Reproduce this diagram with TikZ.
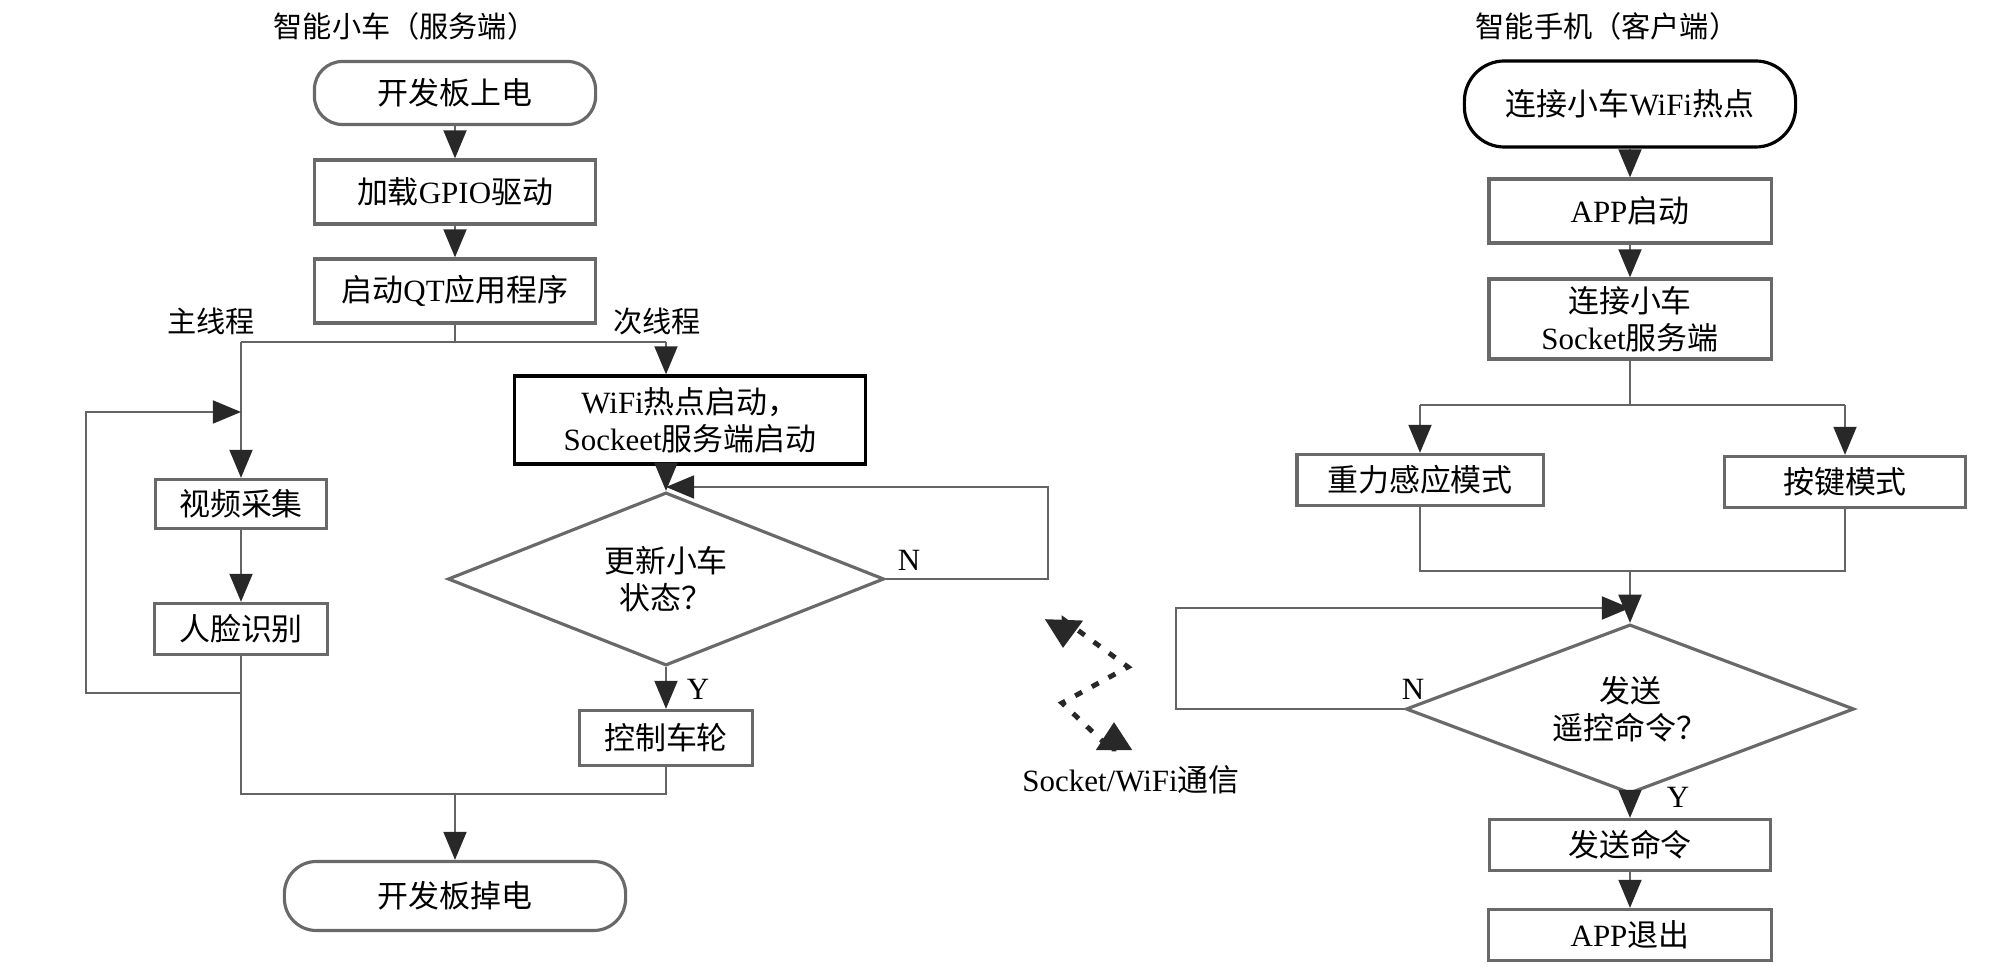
\documentclass[tikz,border=0pt]{standalone}
\usepackage{fontspec}
\setmainfont{Noto Sans CJK SC}
\newfontfamily\latfont{Liberation Serif}
\newcommand{\en}[1]{{\latfont #1}}
\newcommand{\boxfont}{\fontsize{8.8pt}{10.5pt}\selectfont}
\newcommand{\ttlfont}{\fontsize{8.3pt}{10pt}\selectfont}
\usepackage{tikz}
\usetikzlibrary{shapes.geometric,arrows.meta,positioning,calc}
\usepackage{xcolor}
\definecolor{linegray}{RGB}{100,100,100}
\definecolor{boxgray}{RGB}{105,105,105}
\definecolor{tipdark}{RGB}{40,40,40}

\begin{document}
\begin{tikzpicture}[x=0.01cm,y=-0.01cm,
          term/.style={draw=boxgray,line width=0.9pt,rounded corners=0.28cm,
                       minimum width=2.81cm,minimum height=0.63cm,
                       inner sep=0pt,font=\boxfont},
          proc/.style={draw=boxgray,line width=0.9pt,minimum height=0.64cm,
                       inner sep=0pt,align=center,font=\boxfont},
          dec/.style={diamond,draw=boxgray,line width=0.9pt,inner sep=0pt,
                      aspect=2.6,align=center,font=\boxfont},
          conn/.style={draw=linegray,line width=0.7pt},
          flow/.style={conn,-{Triangle[length=8pt,width=6.5pt,color=tipdark]}},
          wave/.style={draw=tipdark,line width=1.4pt,dash pattern=on 2.2pt off 3.2pt,
                       {Triangle[length=8pt,width=10.5pt]}-{Triangle[length=8pt,width=10pt]}},
          lab/.style={font=\ttlfont,inner sep=0pt}
        ]
        \useasboundingbox (0,0) rectangle (2008,967);
        % car side (server)
        \node[lab] (ttlcar) at (405,26) {智能小车（服务端）};
        \node[term] (pwron) at (455,93) {开发板上电};
        \node[proc,minimum width=2.81cm] (gpio)  at (455,192) {加载\en{GPIO}驱动};
        \node[proc,minimum width=2.81cm] (qtapp) at (455,291) {启动\en{QT}应用程序};
        \coordinate (split) at (455,342);
        \coordinate (mainl) at (241,342);
        \coordinate (subl)  at (666,342);
        \node[lab] (tmain) at (211,321) {主线程};
        \node[lab] (tsub)  at (657,321) {次线程};
        \node[proc,minimum width=1.71cm,minimum height=0.49cm] (video) at (241,504) {视频采集};
        \node[proc,minimum width=1.73cm,minimum height=0.51cm] (face)  at (241,629) {人脸识别};
        \node[proc,draw=black,minimum width=3.51cm,minimum height=0.88cm] (wifi) at (690,420)
              {\en{WiFi}热点启动，\\\en{Sockeet}服务端启动};
        \node[dec,minimum width=4.36cm,minimum height=1.73cm] (upd) at (666,579) {更新小车\\状态？};
        \node[proc,minimum width=1.73cm,minimum height=0.55cm] (wheel) at (666,738) {控制车轮};
        \node[term,minimum width=3.41cm,minimum height=0.69cm,rounded corners=0.32cm] (pwroff)
              at (455,896) {开发板掉电};
        \coordinate (loopb) at (241,693);
        \coordinate (loopl) at (86,693);
        \coordinate (loopt) at (86,412);
        \coordinate (mrgl)  at (241,794);
        \coordinate (mrgr)  at (666,794);
        \coordinate (mrg)   at (455,794);
        \coordinate (nloop) at (1048,487);
        \node[lab,font=\boxfont] (nl) at (909,560) {\en{N}};
        \node[lab,font=\boxfont] (yl) at (698,689) {\en{Y}};
        \draw[flow] (pwron) -- (gpio);
        \draw[flow] (gpio) -- (qtapp);
        \draw[conn] (qtapp) -- (split);
        \draw[conn] (mainl) -- (subl);
        \draw[flow] (mainl) -- (video);
        \draw[flow] (subl) -- (wifi.north -| subl);
        \draw[flow] (video) -- (face);
        \draw[flow] (loopb) -- (loopl) -- (loopt) -- (loopt -| mainl);
        \draw[conn] (face) -- (mrgl) -- (mrgr) -- (wheel);
        \draw[flow] (mrg) -- (pwroff);
        \draw[flow] (wifi.south -| upd) -- (upd);
        \draw[flow] (upd.east) -| (nloop) -- (nloop -| upd);
        \draw[flow] (upd) -- (wheel);
        % wireless link
        \coordinate (wa) at (1063,648);
        \coordinate (wa2) at (1064,620);
        \coordinate (wb) at (1128,667);
        \coordinate (wc) at (1062,703);
        \coordinate (wd2) at (1114,752);
        \coordinate (wd) at (1114,722);
        \draw[wave] (wa) -- (wa2) -- (wb) -- (wc) -- (wd2) -- (wd);
        \node[lab,font=\boxfont] (sock) at (1131,780) {\en{Socket/WiFi}通信};
        % phone side (client)
        \node[lab] (ttlphone) at (1607,26) {智能手机（客户端）};
        \node[term,draw=black,minimum width=3.31cm,minimum height=0.86cm,rounded corners=0.4cm]
              (conwifi) at (1630,104) {连接小车\en{WiFi}热点};
        \node[proc,minimum width=2.82cm] (appon) at (1630,211) {\en{APP}启动};
        \node[proc,minimum width=2.82cm,minimum height=0.8cm] (consock) at (1630,319)
              {连接小车\\\en{Socket}服务端};
        \coordinate (split2) at (1630,405);
        \coordinate (gl) at (1420,405);
        \coordinate (kr) at (1845,405);
        \node[proc,minimum width=2.46cm,minimum height=0.51cm] (grav) at (1420,480) {重力感应模式};
        \node[proc,minimum width=2.41cm,minimum height=0.51cm] (keys) at (1845,482) {按键模式};
        \coordinate (mrg2l) at (1420,571);
        \coordinate (mrg2r) at (1845,571);
        \coordinate (mrg2)  at (1630,571);
        \node[dec,minimum width=4.48cm,minimum height=1.69cm] (send) at (1630,709) {发送\\遥控命令？};
        \coordinate (nloop2) at (1176,608);
        \node[proc,minimum width=2.81cm,minimum height=0.51cm] (sendcmd) at (1630,845) {发送命令};
        \node[proc,minimum width=2.83cm,minimum height=0.51cm] (appoff)  at (1630,935) {\en{APP}退出};
        \node[lab,font=\boxfont] (nl2) at (1413,689) {\en{N}};
        \node[lab,font=\boxfont] (yl2) at (1678,797) {\en{Y}};
        \draw[flow] (conwifi) -- (appon);
        \draw[flow] (appon) -- (consock);
        \draw[conn] (consock) -- (split2);
        \draw[conn] (gl) -- (kr);
        \draw[flow] (gl) -- (grav);
        \draw[flow] (kr) -- (keys);
        \draw[conn] (grav) -- (mrg2l) -- (mrg2r) -- (keys);
        \draw[flow] (mrg2) -- (send);
        \draw[flow] (send.west) -| (nloop2) -- (nloop2 -| send);
        \draw[flow] (send) -- (sendcmd);
        \draw[flow] (sendcmd) -- (appoff);
      \end{tikzpicture}
\end{document}
